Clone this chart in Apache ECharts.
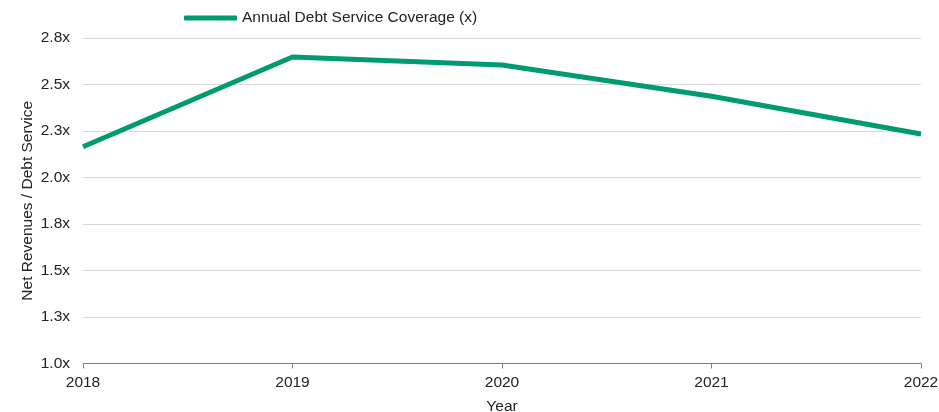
<!DOCTYPE html>
<html>
<head>
<meta charset="utf-8">
<script src="https://cdn.jsdelivr.net/npm/echarts@6/dist/echarts.min.js"></script>
<style>
  html, body { margin: 0; padding: 0; background: #fff; }
  #chart { width: 939px; height: 412px; }
</style>
</head>
<body>
<div id="chart"></div>
<script>
const years = ['2018', '2019', '2020', '2021', '2022']
const coverage = [2.165, 2.648, 2.605, 2.437, 2.234]
const seriesName = 'Annual Debt Service Coverage (x)'

const Chart = echarts.init(document.getElementById('chart'))
Chart.setOption({
  animation: false,
  textStyle: { fontFamily: 'Liberation Sans, Arial, sans-serif' },
  legend: {
    data: [seriesName],
    top: 5,
    left: 179,
    itemWidth: 53,
    itemHeight: 5,
    itemGap: 6,
    icon: 'roundRect',
    textStyle: { fontSize: 15.5, color: '#222' }
  },
  grid: { left: 83, right: 18, top: 38, bottom: 48.5, outerBoundsMode: 'none', containLabel: false },
  xAxis: {
    type: 'category',
    data: years,
    boundaryGap: false,
    name: 'Year',
    nameLocation: 'middle',
    nameGap: 35,
    nameMoveOverlap: false,
    nameTextStyle: { fontSize: 15.5, color: '#222' },
    axisLine: { lineStyle: { color: '#808080', width: 1.2 } },
    axisTick: { show: true, length: 5, lineStyle: { color: '#808080' } },
    axisLabel: { fontSize: 15.5, color: '#222', margin: 11 }
  },
  yAxis: {
    type: 'value',
    min: 1.0,
    max: 2.75,
    interval: 0.25,
    name: 'Net Revenues / Debt Service',
    nameLocation: 'middle',
    nameGap: 47,
    nameMoveOverlap: false,
    nameTextStyle: { fontSize: 15.5, color: '#222' },
    axisLine: { show: false },
    axisTick: { show: false },
    axisLabel: {
      fontSize: 15.5,
      color: '#222',
      margin: 13,
      formatter: v => v.toFixed(1) + 'x'
    },
    splitLine: { lineStyle: { color: '#d9d9d9', width: 1 } }
  },
  series: [{
    name: seriesName,
    type: 'line',
    data: coverage,
    symbol: 'none',
    lineStyle: { color: '#009a73', width: 5 },
    itemStyle: { color: '#009a73' }
  }]
})
</script>
</body>
</html>
